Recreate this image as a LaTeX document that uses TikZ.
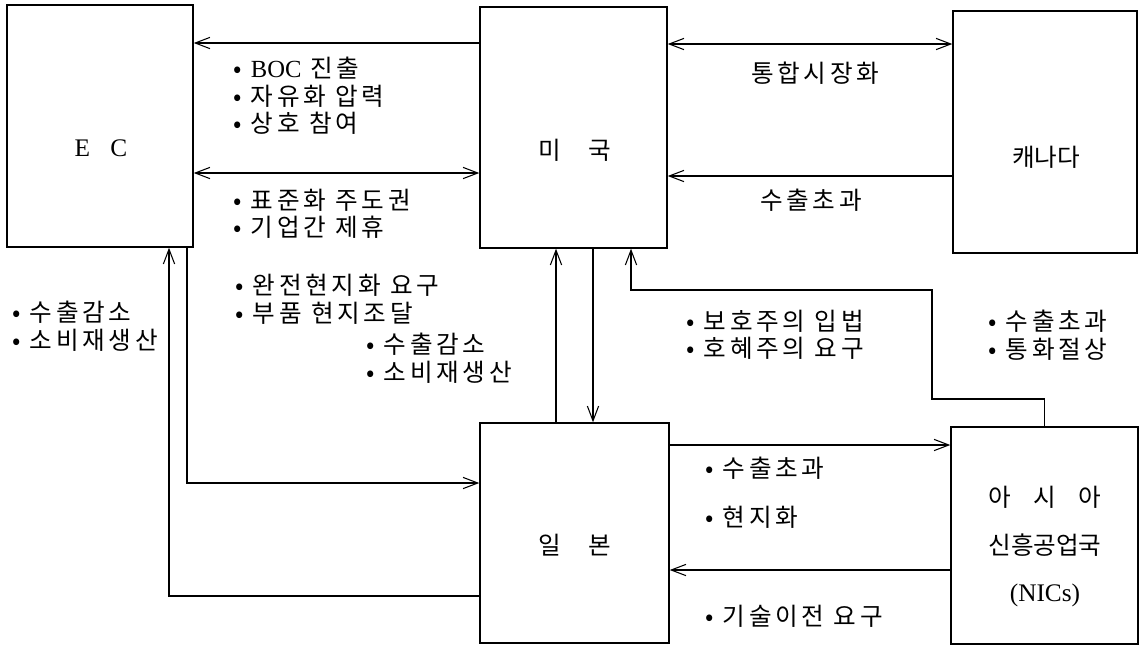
\documentclass[tikz,border=0pt]{standalone}
\usepackage{fontspec}
\setmainfont{Noto Sans CJK KR}
\newfontfamily\krsp[LetterSpace=15]{Noto Sans CJK KR}
\newfontfamily\lat{Liberation Serif}
\usetikzlibrary{arrows.meta}
\begin{document}
\begin{tikzpicture}[x=0.025cm, y=-0.025cm,
  box/.style={draw, line width=1pt, inner sep=0pt},
  txt/.style={font=\fontsize{17.5}{19.6}\selectfont, inner sep=0pt},
  sptxt/.style={font=\krsp\fontsize{17.5}{19.6}\selectfont, inner sep=0pt},
  list/.style={sptxt, anchor=west, align=left},
  arr/.style={line width=0.75pt, -{Straight Barb[length=10.5pt, width=8pt]}},
  arrs/.style={line width=0.75pt, {Straight Barb[length=10.5pt, width=8pt]}-{Straight Barb[length=10.5pt, width=8pt]}}]
\pgfmathsetlengthmacro\px{0.025cm}
\useasboundingbox (0,0) rectangle (1142,646);
\node[box, minimum width=186*\px, minimum height=242*\px] (ec) at (100,126) {};
\node[box, minimum width=187*\px, minimum height=241*\px] (usa) at (573.5,127.5) {};
\node[box, minimum width=184*\px, minimum height=242*\px] (can) at (1045,132) {};
\node[box, minimum width=189*\px, minimum height=220*\px] (jpn) at (574.5,533) {};
\node[box, minimum width=187*\px, minimum height=217*\px] (nics) at (1044.5,535.5) {};
\node[txt] (ec-name) at (101,148) {\lat\fontsize{18}{20}\selectfont E\hspace{0.8em}C};
\node[txt] (usa-name) at (575,150) {미\hspace{1.1em}국};
\node[txt] (can-name) at (1046,157) {캐나다};
\node[txt] (jpn-name) at (575,545) {일\hspace{1.1em}본};
\node[txt] (nics-a) at (1045,497) {아\hspace{0.9em}시\hspace{0.9em}아};
\node[txt] (nics-b) at (1045,545) {신흥공업국};
\node[txt] (nics-c) at (1045,595) {\lat\fontsize{18}{20}\selectfont (NICs)};
\node[list] (boc) at (233,96) {• {\lat BOC} 진출\\• 자유화 압력\\• 상호 참여};
\node[list] (std) at (233,214) {• 표준화 주도권\\• 기업간 제휴};
\node[list] (ec-dec) at (12,326) {• 수출감소\\• 소비재생산};
\node[list] (loc) at (235,299) {• 완전현지화 요구\\• 부품 현지조달};
\node[list] (jpn-dec) at (366,358) {• 수출감소\\• 소비재생산};
\node[list] (prot) at (686,335) {• 보호주의 입법\\• 호혜주의 요구};
\node[list] (nics-exc) at (988,335) {• 수출초과\\• 통화절상};
\node[list] (jpn-exc) at (705,468) {• 수출초과};
\node[list] (jpn-loc) at (705,517) {• 현지화};
\node[list] (tech) at (705,616) {• 기술이전 요구};
\node[sptxt] (nafta) at (815,73) {통합시장화};
\node[sptxt] (can-exc) at (811,200) {수출초과};
\draw[arr] (usa.west |- 0,43) -- (ec.east |- 0,43);
\draw[arrs] (ec.east |- 0,173) -- (usa.west |- 0,173);
\draw[arrs] (usa.east |- 0,44) -- (can.west |- 0,44);
\draw[arr] (can.west |- 0,176) -- (usa.east |- 0,176);
\draw[arr] (ec.south -| 187,0) |- (jpn.west |- 0,483);
\draw[arr] (jpn.west |- 0,596) -| (ec.south -| 169,0);
\draw[arr] (jpn.north -| 556,0) -- (usa.south -| 556,0);
\draw[arr] (usa.south -| 593,0) -- (jpn.north -| 593,0);
\draw[arr] (nics.north) |- (932,399) |- (631,290) -- (usa.south -| 631,0);
\draw[arr] (jpn.east |- 0,445) -- (nics.west |- 0,445);
\draw[arr] (nics.west |- 0,570) -- (jpn.east |- 0,570);
\end{tikzpicture}
\end{document}
